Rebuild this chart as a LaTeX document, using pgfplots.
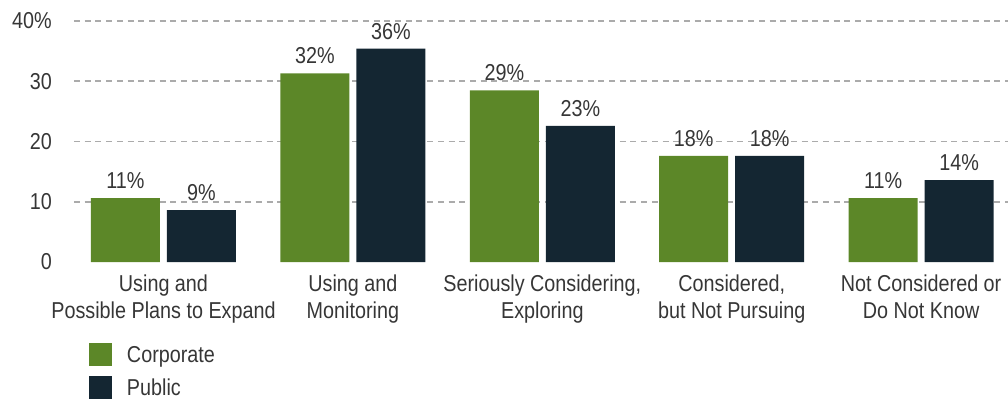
\documentclass[border=0pt]{standalone}
\usepackage{fontspec}
\setmainfont{Liberation Sans}[FakeStretch=0.86]
\usepackage{pgfplots}
\pgfplotsset{compat=1.18}
\definecolor{cgreen}{HTML}{5C8728}
\definecolor{cnavy}{HTML}{142632}
\definecolor{ctext}{HTML}{363636}
\definecolor{cgrid}{HTML}{ABABAB}
\pgfplotsset{
  sq legend/.style={legend image code/.code={\fill[##1] (0pt,-11pt) rectangle (23pt,12pt);}}
}
\begin{document}
\begin{tikzpicture}
\useasboundingbox (-74pt,-137pt) rectangle (934pt,262pt);
\begin{axis}[
  at={(0pt,0pt)}, anchor=south west,
  scale only axis, width=934pt, height=241pt,
  xmin=-0.4725, xmax=4.4588, ymin=0, ymax=40,
  ybar, bar width=69pt,
  axis line style={draw=none},
  major tick length=0pt,
  ytick={10,20,30,40}, yticklabels={10,20,30,40\%},
  extra y ticks={0}, extra y tick labels={0}, extra y tick style={grid=none},
  ymajorgrids, grid style={cgrid, line width=1.8pt, dash pattern=on 6pt off 4.7pt},
  xtick={0,1,2,3,4},
  xticklabels={{Using and\\Possible Plans to Expand},{Using and\\Monitoring},{Seriously Considering,\\Exploring},{Considered,\\but Not Pursuing},{Not Considered or\\Do Not Know}},
  ticklabel style={font=\fontsize{23}{27}\selectfont, text=ctext},
  xticklabel style={align=center, inner sep=0pt, anchor=north, yshift=-13pt},
  yticklabel style={anchor=east, inner sep=0pt, xshift=-22pt},
  point meta=explicit symbolic,
  nodes near coords={\pgfplotspointmeta\%},
  nodes near coords style={text=ctext, font=\fontsize{23}{27}\selectfont, anchor=south, inner sep=0pt, yshift=9pt},
  legend style={draw=none, fill=none, at={(0,0)}, anchor=north west, xshift=15pt, yshift=-81pt,
    inner sep=0pt, outer sep=0pt, row sep=10pt,
    nodes={inner sep=0pt, text=ctext, font=\fontsize{23}{27}\selectfont},
    /tikz/every odd column/.append style={column sep=15pt}},
  legend cell align=left,
]
\addplot[fill=cgreen, draw=none, bar shift=-38pt, sq legend] coordinates {
  (0,10.6) [11] (1,31.3) [32] (2,28.5) [29] (3,17.6) [18] (4,10.6) [11]};
\addplot[fill=cnavy, draw=none, bar shift=38pt, sq legend] coordinates {
  (0,8.6) [9] (1,35.4) [36] (2,22.6) [23] (3,17.6) [18] (4,13.6) [14]};
\legend{Corporate, Public}
\end{axis}
\end{tikzpicture}
\end{document}
